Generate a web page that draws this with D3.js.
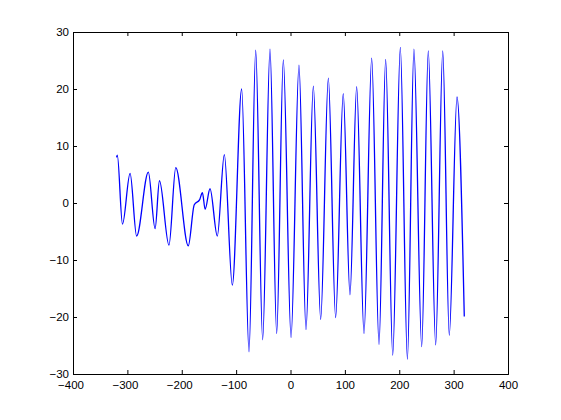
<!DOCTYPE html>
<html>
<head>
<meta charset="utf-8">
<script src="https://cdn.jsdelivr.net/npm/d3@7"></script>
<style>
  html, body { margin: 0; padding: 0; background: #fff; }
  svg { display: block; }
</style>
</head>
<body>
<script>
// Sample points (x, y)
const xValues = [-320, -318.5, -309, -295, -283, -261.5, -249, -241, -223.5, -211, -188,
  -177, -167, -162, -157, -148, -134.6, -121.7, -107, -89.8, -76.3, -64, -51.2, -37.7,
  -25.4, -13.2, 1, 15.6, 28.5, 42, 55.5, 69.6, 83, 97, 109.4, 121.7, 135.2, 149.3, 162.8,
  175, 188, 202, 215, 227, 241.3, 253.4, 267, 280, 292, 306.2, 319.6];
const yValues = [8.0, 8.4, -3.7, 5.2, -5.8, 5.4, -4.5, 3.9, -7.4, 6.2, -7.5,
  -0.3, 0.6, 1.8, -1.1, 2.5, -5.8, 8.5, -14.4, 20.0, -26.1, 26.8, -24.0, 27.0,
  -22.9, 25.1, -23.6, 24.2, -22.2, 20.5, -20.4, 21.9, -20.1, 19.2, -16.1, 20.4, -22.9, 25.4, -24.8,
  25.2, -26.7, 27.3, -27.4, 27.0, -25.2, 26.7, -24.9, 26.7, -23.2, 18.6, -19.9];
const xTicks = [-400, -300, -200, -100, 0, 100, 200, 300, 400];
const yTicks = [-30, -20, -10, 0, 10, 20, 30];

(function () {
const W = 561, H = 420;
const mLeft = 73, mRight = 508, mTop = 32, mBottom = 374;

const svg = d3.select("body").append("svg").attr("width", W).attr("height", H);

const x = d3.scaleLinear().domain([-400, 400]).range([mLeft, mRight]);
const y = d3.scaleLinear().domain([-30, 30]).range([mBottom, mTop]);

const data = xValues.map((v, i) => ({x: v, y: yValues[i]}));

svg.append("path")
  .datum(data)
  .attr("fill", "none")
  .attr("stroke", "#0000ff")
  .attr("stroke-width", 1.3)
  .attr("d", d3.line().x(d => x(d.x)).y(d => y(d.y)).curve(d3.curveMonotoneX));

const font = "Liberation Sans, Arial, sans-serif";
const tickLen = 4;

const gB = svg.append("g").attr("transform", `translate(0,${mBottom})`)
  .call(d3.axisBottom(x).tickValues(xTicks).tickSize(-tickLen).tickPadding(8).tickFormat(d3.format("d")));
const gT = svg.append("g").attr("transform", `translate(0,${mTop})`)
  .call(d3.axisTop(x).tickValues(xTicks).tickSize(-tickLen).tickFormat(""));
const gL = svg.append("g").attr("transform", `translate(${mLeft},0)`)
  .call(d3.axisLeft(y).tickValues(yTicks).tickSize(-tickLen).tickPadding(8).tickFormat(d3.format("d")));
const gR = svg.append("g").attr("transform", `translate(${mRight},0)`)
  .call(d3.axisRight(y).tickValues(yTicks).tickSize(-tickLen).tickFormat(""));

[gB, gT, gL, gR].forEach(g => {
  g.select(".domain").attr("stroke", "#000").attr("stroke-width", 1);
  g.selectAll(".tick line").attr("stroke", "#000");
  g.selectAll("text").attr("fill", "#000").style("font-family", font).style("font-size", "11.5px");
});

gB.selectAll(".tick text").attr("dx", d => d < 0 ? -2.5 : 0).attr("y", 7).attr("dy", "0.71em");
gL.selectAll(".tick text").attr("x", -4).attr("dy", "0.3em");
})();
</script>
</body>
</html>
